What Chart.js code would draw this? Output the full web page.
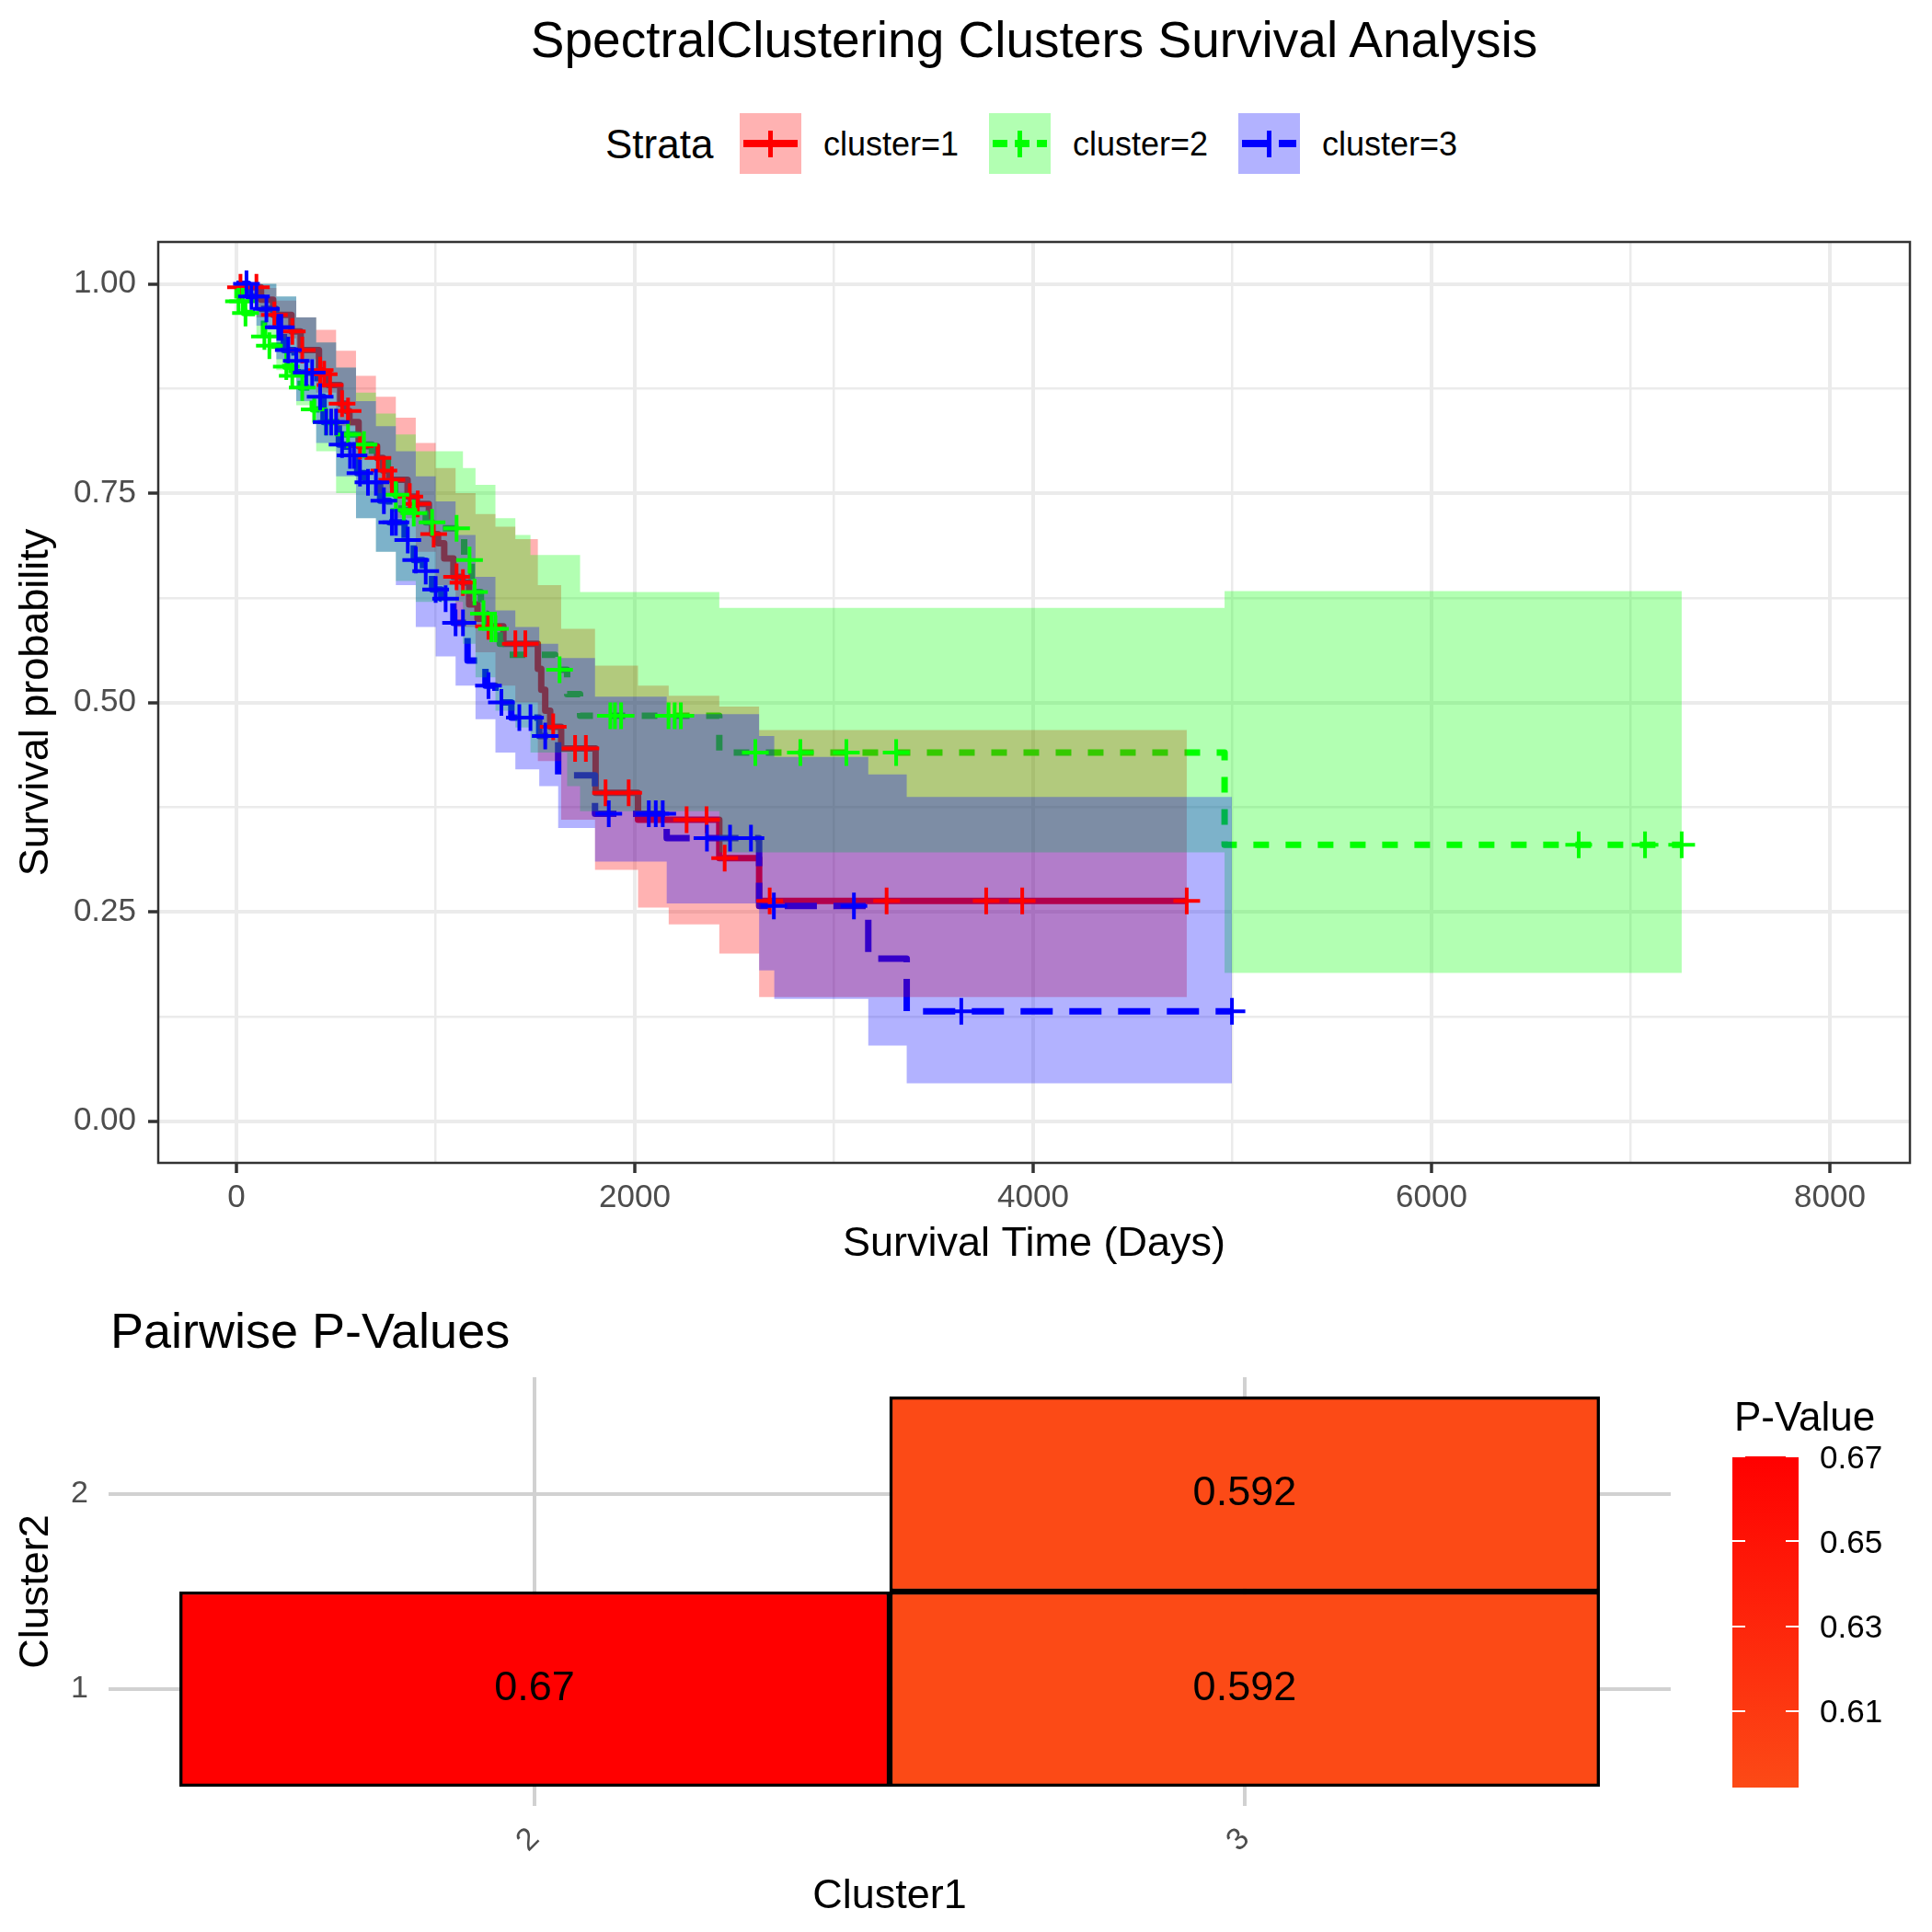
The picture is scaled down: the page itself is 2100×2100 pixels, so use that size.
<!DOCTYPE html>
<html>
<head>
<meta charset="utf-8">
<script src="https://cdn.jsdelivr.net/npm/chart.js@4.4.1/dist/chart.umd.min.js"></script>
<style>
  body { margin: 0; background: #fff; }
  #page { position: relative; width: 2100px; height: 2100px; background: #fff; overflow: hidden;
          font-family: 'Liberation Sans', Arial, Helvetica, sans-serif; color: #000; }
  .txt { position: absolute; white-space: nowrap; line-height: 1; }
  .key { position: absolute; top: 123px; width: 67px; height: 66px; }
  .kline { position: absolute; left: 4px; width: 59px; top: 29px; height: 8px; }
  .kcross { position: absolute; left: 31px; width: 5px; top: 19px; height: 29px; }
  canvas { position: absolute; left: 0; }
</style>
</head>
<body>
<div id="page">
  <div class="txt" style="left:0;width:2248px;text-align:center;top:16px;font-size:55px;">SpectralClustering Clusters Survival Analysis</div>

  <div class="txt" style="left:658px;top:135px;font-size:44px;">Strata</div>
  <div class="key" style="left:804px;background:rgba(255,0,0,0.3)">
    <div class="kline" style="background:#ff0000"></div><div class="kcross" style="background:#ff0000"></div>
  </div>
  <div class="txt" style="left:895px;top:139px;font-size:36px;">cluster=1</div>
  <div class="key" style="left:1075px;background:rgba(0,255,0,0.3)">
    <div class="kline" style="background:repeating-linear-gradient(90deg,#00ff00 0 16px,transparent 16px 24px)"></div><div class="kcross" style="background:#00ff00"></div>
  </div>
  <div class="txt" style="left:1166px;top:139px;font-size:36px;">cluster=2</div>
  <div class="key" style="left:1346px;background:rgba(0,0,255,0.3)">
    <div class="kline" style="background:repeating-linear-gradient(90deg,#0000ff 0 32px,transparent 32px 40px)"></div><div class="kcross" style="background:#0000ff"></div>
  </div>
  <div class="txt" style="left:1437px;top:139px;font-size:36px;">cluster=3</div>

  <canvas id="km" width="2100" height="1400" style="top:0;width:2100px;height:1400px;"></canvas>

  <div class="txt" style="left:120px;top:1419px;font-size:54px;">Pairwise P-Values</div>
  <canvas id="pv" width="2100" height="700" style="top:1400px;width:2100px;height:700px;"></canvas>

  <div class="txt" style="left:1885px;top:1518px;font-size:44px;">P-Value</div>
  <div id="colorbar"></div>
</div>

<script>
// ---- survival curves (days, survival probability) ----
const redTimes = [0, 15, 123, 184, 276, 322, 414, 429, 460, 521, 552, 567, 613, 706, 736, 767, 859, 905, 966, 982, 1012, 1043, 1089, 1135, 1168, 1210, 1260, 1340, 1513, 1530, 1550, 1575, 1630, 1803, 2016, 2424, 2624, 4771];
const redSurv = [1.0, 0.996, 0.981, 0.963, 0.943, 0.921, 0.897, 0.892, 0.879, 0.857, 0.848, 0.835, 0.806, 0.792, 0.777, 0.766, 0.746, 0.737, 0.715, 0.701, 0.690, 0.672, 0.650, 0.643, 0.617, 0.600, 0.591, 0.570, 0.540, 0.515, 0.490, 0.471, 0.445, 0.392, 0.360, 0.314, 0.263, 0.263];

const greenTimes = [0, 5, 38, 138, 161, 245, 276, 322, 383, 430, 520, 613, 680, 760, 797, 828, 870, 950, 1000, 1143, 1181, 1227, 1258, 1322, 1350, 1600, 1660, 1725, 2424, 4961, 7256];
const greenSurv = [1.0, 0.979, 0.965, 0.937, 0.926, 0.901, 0.890, 0.876, 0.850, 0.835, 0.820, 0.808, 0.790, 0.760, 0.748, 0.730, 0.726, 0.715, 0.708, 0.670, 0.632, 0.606, 0.588, 0.570, 0.557, 0.539, 0.510, 0.484, 0.440, 0.330, 0.330];

const blueTimes = [0, 60, 123, 199, 238, 291, 307, 406, 437, 514, 552, 606, 644, 721, 767, 844, 890, 936, 982, 1028, 1089, 1160, 1250, 1300, 1380, 1520, 1615, 1800, 2160, 2624, 3172, 3365, 4998];
const blueSurv = [1.0, 0.985, 0.970, 0.948, 0.921, 0.908, 0.894, 0.865, 0.835, 0.808, 0.795, 0.774, 0.763, 0.741, 0.715, 0.694, 0.670, 0.657, 0.635, 0.624, 0.595, 0.550, 0.520, 0.500, 0.482, 0.460, 0.413, 0.367, 0.338, 0.257, 0.194, 0.131, 0.131];

// confidence bands
const redBandTimes = [0, 100, 200, 300, 400, 500, 600, 700, 800, 900, 1000, 1100, 1200, 1300, 1400, 1513, 1630, 1800, 2016, 2170, 2424, 2624, 4771];
const redBandUpper = [1.0, 0.995, 0.98, 0.96, 0.945, 0.92, 0.89, 0.865, 0.84, 0.81, 0.78, 0.75, 0.725, 0.71, 0.695, 0.64, 0.588, 0.544, 0.52, 0.508, 0.495, 0.467, 0.467];
const redBandLower = [1.0, 0.96, 0.935, 0.91, 0.87, 0.83, 0.79, 0.75, 0.72, 0.68, 0.64, 0.59, 0.56, 0.52, 0.50, 0.43, 0.36, 0.30, 0.255, 0.235, 0.2, 0.148, 0.148];

const greenBandTimes = [0, 100, 200, 300, 400, 500, 600, 700, 800, 900, 1137, 1200, 1300, 1400, 1476, 1660, 1725, 2424, 4961, 7256];
const greenBandUpper = [1.0, 1.0, 0.985, 0.96, 0.93, 0.90, 0.87, 0.845, 0.82, 0.80, 0.78, 0.76, 0.72, 0.70, 0.676, 0.676, 0.632, 0.613, 0.633, 0.633];
const greenBandLower = [0.985, 0.935, 0.897, 0.855, 0.80, 0.75, 0.72, 0.68, 0.645, 0.62, 0.57, 0.53, 0.49, 0.47, 0.44, 0.40, 0.37, 0.321, 0.177, 0.177];

const blueBandTimes = [0, 100, 200, 300, 400, 500, 600, 700, 800, 900, 1000, 1100, 1200, 1300, 1400, 1520, 1615, 1800, 2160, 2624, 2700, 3172, 3365, 4998];
const blueBandUpper = [1.0, 1.0, 0.985, 0.96, 0.93, 0.90, 0.86, 0.83, 0.80, 0.77, 0.74, 0.70, 0.65, 0.61, 0.59, 0.57, 0.553, 0.507, 0.486, 0.46, 0.435, 0.414, 0.387, 0.387];
const blueBandLower = [0.98, 0.95, 0.91, 0.86, 0.81, 0.77, 0.72, 0.68, 0.64, 0.59, 0.555, 0.52, 0.48, 0.44, 0.42, 0.40, 0.35, 0.31, 0.26, 0.18, 0.146, 0.09, 0.045, 0.045];

// censored observations
const redCensorTimes = [20, 100, 190, 280, 330, 420, 440, 470, 530, 560, 620, 710, 740, 780, 870, 910, 990, 1105, 1137, 1265, 1400, 1450, 1590, 1700, 1754, 1853, 1969, 2260, 2360, 2451, 2677, 3264, 3764, 3945, 4771];
const redCensorSurv = [0.996, 0.996, 0.963, 0.943, 0.921, 0.897, 0.892, 0.879, 0.857, 0.848, 0.806, 0.792, 0.777, 0.766, 0.746, 0.737, 0.701, 0.650, 0.643, 0.591, 0.570, 0.570, 0.471, 0.445, 0.445, 0.392, 0.392, 0.360, 0.360, 0.314, 0.263, 0.263, 0.263, 0.263, 0.263];

const greenCensorTimes = [10, 31, 45, 140, 165, 250, 280, 330, 390, 450, 560, 640, 800, 840, 890, 982, 1105, 1170, 1195, 1240, 1280, 1300, 1622, 1877, 1900, 1931, 2169, 2200, 2231, 2605, 2831, 3062, 3312, 6739, 7072, 7256];
const greenCensorSurv = [0.979, 0.979, 0.965, 0.937, 0.926, 0.901, 0.890, 0.876, 0.850, 0.835, 0.820, 0.808, 0.748, 0.730, 0.726, 0.715, 0.708, 0.670, 0.632, 0.606, 0.588, 0.588, 0.539, 0.484, 0.484, 0.484, 0.484, 0.484, 0.484, 0.440, 0.440, 0.440, 0.440, 0.330, 0.330, 0.330];

const blueCensorTimes = [50, 75, 100, 150, 210, 225, 260, 300, 350, 380, 420, 450, 475, 500, 530, 570, 590, 620, 660, 700, 740, 780, 800, 860, 900, 950, 1000, 1050, 1100, 1137, 1265, 1330, 1420, 1476, 1550, 1869, 2070, 2105, 2140, 2362, 2478, 2583, 2698, 3100, 3639, 4998];
const blueCensorSurv = [1.0, 0.985, 0.985, 0.970, 0.948, 0.948, 0.921, 0.908, 0.894, 0.894, 0.865, 0.835, 0.835, 0.835, 0.808, 0.795, 0.795, 0.774, 0.763, 0.763, 0.741, 0.715, 0.715, 0.694, 0.670, 0.657, 0.635, 0.624, 0.595, 0.595, 0.520, 0.500, 0.482, 0.482, 0.460, 0.367, 0.367, 0.367, 0.367, 0.338, 0.338, 0.338, 0.257, 0.257, 0.131, 0.131];

// axis ticks
const xMajorTicks = [0, 2000, 4000, 6000, 8000];
const xMinorTicks = [1000, 3000, 5000, 7000];
const yMajorTicks = [0, 0.25, 0.5, 0.75, 1];
const yMinorTicks = [0.125, 0.375, 0.625, 0.875];

// ---- pairwise p-values ----
const pairCluster1 = [2, 3, 3];
const pairCluster2 = [1, 1, 2];
const pairPValues = [0.67, 0.592, 0.592];
const pvCategoriesX = [2, 3];
const pvCategoriesY = [1, 2];
const colorbarTicks = [0.61, 0.63, 0.65, 0.67];

Chart.defaults.font.family = "'Liberation Sans', Arial, Helvetica, sans-serif";
Chart.defaults.color = '#4d4d4d';

function pts(xs, ys) {
  return xs.map((x, i) => ({ x: x, y: ys[i] }));
}

const strata = [
  { color: '#ff0000', fillCol: 'rgba(255,0,0,0.3)', dash: [], t: redTimes, s: redSurv,
    bt: redBandTimes, bu: redBandUpper, bl: redBandLower, ct: redCensorTimes, cs: redCensorSurv },
  { color: '#00ff00', fillCol: 'rgba(0,255,0,0.3)', dash: [17, 18], t: greenTimes, s: greenSurv,
    bt: greenBandTimes, bu: greenBandUpper, bl: greenBandLower, ct: greenCensorTimes, cs: greenCensorSurv },
  { color: '#0000ff', fillCol: 'rgba(0,0,255,0.3)', dash: [35, 18], t: blueTimes, s: blueSurv,
    bt: blueBandTimes, bu: blueBandUpper, bl: blueBandLower, ct: blueCensorTimes, cs: blueCensorSurv }
];

// higher order = drawn earlier; red first, blue last within each layer
const kmDatasets = [];
strata.forEach((st, k) => {
  kmDatasets.push({
    data: pts(st.t, st.s), stepped: true, borderColor: st.color, borderWidth: 7,
    borderDash: st.dash, borderCapStyle: 'butt', borderJoinStyle: 'round',
    pointRadius: 0, fill: false, order: 32 - k
  });
  kmDatasets.push({
    data: pts(st.bt, st.bu), stepped: true, borderColor: 'transparent', borderWidth: 0,
    backgroundColor: st.fillCol, pointRadius: 0, fill: '+1', order: 22 - k
  });
  kmDatasets.push({
    data: pts(st.bt, st.bl), stepped: true, borderColor: 'transparent', borderWidth: 0,
    pointRadius: 0, fill: false, order: 22 - k
  });
  kmDatasets.push({
    data: pts(st.ct, st.cs), showLine: false, pointStyle: 'cross', pointRadius: 14.5,
    pointBorderWidth: 4, pointBorderColor: st.color, borderColor: st.color, order: 12 - k
  });
});

const isMajorX = v => xMajorTicks.includes(v);
const isMajorY = v => yMajorTicks.includes(v);

const panelBorder = {
  id: 'panelBorder',
  afterDraw(chart) {
    const { ctx, chartArea: a } = chart;
    ctx.save();
    ctx.strokeStyle = '#333333';
    ctx.lineWidth = 2.5;
    ctx.strokeRect(a.left, a.top, a.right - a.left, a.bottom - a.top);
    ctx.restore();
  }
};

new Chart(document.getElementById('km'), {
  type: 'line',
  data: { datasets: kmDatasets },
  plugins: [panelBorder],
  options: {
    responsive: false, animation: false, devicePixelRatio: 1,
    layout: { padding: { left: 0, top: 263, right: 24, bottom: 0 } },
    plugins: { legend: { display: false }, tooltip: { enabled: false } },
    scales: {
      x: {
        type: 'linear', min: -393, max: 8402,
        afterFit: s => { s.height = 136; },
        afterBuildTicks: s => { s.ticks = xMajorTicks.concat(xMinorTicks).sort((a, b) => a - b).map(v => ({ value: v })); },
        ticks: { font: { size: 35 }, color: '#4d4d4d', padding: 6, maxRotation: 0, autoSkip: false,
                 callback: v => isMajorX(v) ? String(v) : '' },
        grid: {
          color: '#ebebeb', tickLength: 11, tickWidth: 3.5,
          lineWidth: c => isMajorX(c.tick.value) ? 4 : 2.5,
          tickColor: c => isMajorX(c.tick.value) ? '#333333' : 'rgba(0,0,0,0)'
        },
        border: { display: false },
        title: { display: true, text: 'Survival Time (Days)', color: '#000', font: { size: 45 }, padding: { top: 0, bottom: 20 } }
      },
      y: {
        type: 'linear', min: -0.05, max: 1.05,
        afterFit: s => { s.width = 172; },
        afterBuildTicks: s => { s.ticks = yMajorTicks.concat(yMinorTicks).sort((a, b) => a - b).map(v => ({ value: v })); },
        ticks: { font: { size: 35 }, color: '#4d4d4d', padding: 13, autoSkip: false,
                 callback: v => isMajorY(v) ? v.toFixed(2) : '' },
        grid: {
          color: '#ebebeb', tickLength: 11, tickWidth: 3.5,
          lineWidth: c => isMajorY(c.tick.value) ? 4 : 2.5,
          tickColor: c => isMajorY(c.tick.value) ? '#333333' : 'rgba(0,0,0,0)'
        },
        border: { display: false },
        title: { display: true, text: 'Survival probability', color: '#000', font: { size: 45 }, padding: { top: 13, bottom: 0 } }
      }
    }
  }
});

// ---- heatmap of pairwise p-values ----
const pMin = Math.min(...pairPValues);
const pMax = Math.max(...pairPValues);
const lowRGB = [252, 74, 22];
const highRGB = [255, 0, 0];
function pColor(v) {
  const f = pMax === pMin ? 1 : (v - pMin) / (pMax - pMin);
  const c = lowRGB.map((lo, i) => Math.round(lo + (highRGB[i] - lo) * f));
  return `rgb(${c[0]},${c[1]},${c[2]})`;
}

const cellLabels = {
  id: 'cellLabels',
  afterDatasetsDraw(chart) {
    const { ctx } = chart;
    const meta = chart.getDatasetMeta(0);
    ctx.save();
    ctx.fillStyle = '#000';
    ctx.font = "45px 'Liberation Sans', Arial, sans-serif";
    ctx.textAlign = 'center';
    ctx.textBaseline = 'middle';
    meta.data.forEach((bar, i) => {
      ctx.fillText(String(pairPValues[i]), bar.x, (bar.y + bar.base) / 2);
    });
    ctx.restore();
  }
};

new Chart(document.getElementById('pv'), {
  type: 'bar',
  data: {
    datasets: [{
      data: pairCluster1.map((c1, i) => ({ x: c1, y: [pairCluster2[i] - 0.5, pairCluster2[i] + 0.5] })),
      backgroundColor: ctx => pColor(pairPValues[ctx.dataIndex]),
      borderColor: '#000', borderWidth: 3.5, borderSkipped: false,
      barPercentage: 1, categoryPercentage: 1, grouped: false
    }]
  },
  plugins: [cellLabels],
  options: {
    responsive: false, animation: false, devicePixelRatio: 1,
    layout: { padding: { left: 0, top: 97, right: 284, bottom: 0 } },
    plugins: { legend: { display: false }, tooltip: { enabled: false } },
    scales: {
      x: {
        type: 'linear', min: 1.4, max: 3.6, offset: false,
        afterFit: s => { s.height = 137; },
        afterBuildTicks: s => { s.ticks = pvCategoriesX.map(v => ({ value: v })); },
        ticks: { font: { size: 34 }, color: '#4d4d4d', padding: 16, minRotation: 45, maxRotation: 45,
                 autoSkip: false, callback: v => String(v) },
        grid: { color: '#d1d1d1', lineWidth: 4, drawTicks: false, offset: false },
        border: { display: false },
        title: { display: true, text: 'Cluster1', color: '#000', font: { size: 45 }, padding: { top: 0, bottom: 11 } }
      },
      y: {
        type: 'linear', min: 0.4, max: 2.6,
        afterFit: s => { s.width = 118; },
        afterBuildTicks: s => { s.ticks = pvCategoriesY.map(v => ({ value: v })); },
        ticks: { font: { size: 34 }, color: '#4d4d4d', padding: 22, autoSkip: false, callback: v => String(v) },
        grid: { color: '#d1d1d1', lineWidth: 4, drawTicks: false, offset: false },
        border: { display: false },
        title: { display: true, text: 'Cluster2', color: '#000', font: { size: 45 }, padding: { top: 13, bottom: 0 } }
      }
    }
  }
});

// ---- colour bar legend ----
(function buildColorbar() {
  const host = document.getElementById('colorbar');
  const barLeft = 1883, barTop = 1583, barW = 72, barH = 360;
  const bar = document.createElement('div');
  bar.style.cssText = `position:absolute;left:${barLeft}px;top:${barTop}px;width:${barW}px;height:${barH}px;` +
    `background:linear-gradient(to bottom, ${pColor(pMax)}, ${pColor(pMin)});`;
  host.appendChild(bar);
  colorbarTicks.forEach(v => {
    const y = barTop + (pMax - v) / (pMax - pMin) * barH;
    [barLeft, barLeft + barW - 14].forEach(x => {
      const t = document.createElement('div');
      t.style.cssText = `position:absolute;left:${x}px;top:${y - 1}px;width:14px;height:2px;background:#fff;`;
      host.appendChild(t);
    });
    const lab = document.createElement('div');
    lab.className = 'txt';
    lab.style.cssText += `left:1978px;top:${y - 17.5}px;font-size:35px;`;
    lab.textContent = v.toFixed(2);
    host.appendChild(lab);
  });
})();
</script>
</body>
</html>
